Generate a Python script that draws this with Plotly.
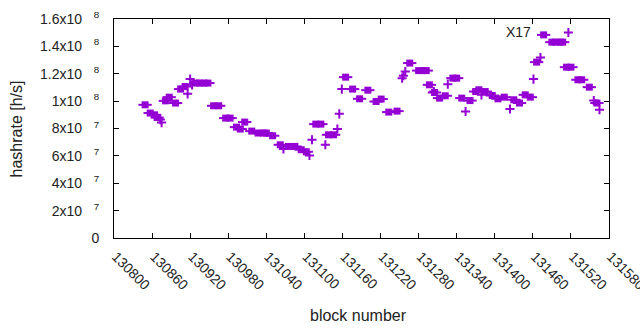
import plotly.graph_objects as go

COLOR = "#9400D3"

# Blocks where the hashrate stayed the same over several blocks (square marks)
sq_blocks = [130849, 130857, 130864, 130868, 130881, 130887, 130897, 130905, 130912,
             130929, 130935, 130942, 130948, 130957, 130965, 130976, 130983, 130993,
             130999, 131006, 131017, 131027, 131035, 131040, 131050, 131062, 131075,
             131085, 131095, 131103, 131118, 131126, 131138, 131146, 131165, 131176,
             131187, 131200, 131213, 131221, 131233, 131246, 131266, 131280, 131287,
             131292, 131297, 131305, 131313, 131322, 131334, 131340, 131348, 131361,
             131370, 131375, 131385, 131396, 131405, 131415, 131430, 131439, 131448,
             131456, 131466, 131477, 131490, 131496, 131503, 131507, 131513, 131520,
             131531, 131537, 131549, 131561]
sq_hashrate_mh = [97.3, 91.3, 90.0, 88.0, 100.2, 102.9, 98.6, 108.8, 110.7,
                  113.2, 113.2, 113.2, 113.2, 96.6, 96.6, 87.6, 87.6, 81.0,
                  79.6, 84.7, 78.1, 76.7, 76.7, 76.7, 74.7, 68.1, 66.9,
                  66.9, 64.5, 63.0, 83.2, 83.2, 75.4, 75.4, 117.5, 108.8,
                  101.7, 108.0, 99.7, 101.5, 92.0, 92.7, 127.8, 122.3, 122.3,
                  122.3, 111.9, 106.3, 102.2, 103.9, 116.8, 116.8, 102.2, 100.4,
                  107.0, 108.3, 107.0, 104.1, 101.7, 102.9, 101.0, 98.6, 104.6,
                  102.9, 128.5, 148.4, 143.1, 143.1, 143.1, 143.1, 124.8, 124.8,
                  115.6, 115.6, 110.2, 98.6]

# Single-block samples (plus marks)
pl_blocks = [130873, 130875, 130916, 130920, 130923, 131067, 131108, 131112, 131133,
             131152, 131155, 131159, 131254, 131256, 131259, 131304, 131326, 131354,
             131379, 131424, 131461, 131472, 131516, 131556, 131565]
pl_hashrate_mh = [86.5, 84.3, 105.3, 116.1, 111.9, 65.0, 60.3, 71.8, 68.1,
                  79.6, 90.7, 108.8, 116.8, 118.5, 121.6, 107.0, 112.4, 92.4,
                  104.6, 94.2, 116.1, 131.8, 150.1, 100.4, 93.7]

x_ticks = list(range(130800, 131581, 60))
y_ticks = [0, 2e7, 4e7, 6e7, 8e7, 1e8, 1.2e8, 1.4e8, 1.6e8]
y_mant = ["0", "2", "4", "6", "8", "1", "1.2", "1.4", "1.6"]
y_exp = ["", "7", "7", "7", "7", "8", "8", "8", "8"]
NB = "\u00a0\u00a0\u00a0"
y_ticktext = [m if not e else m + "x10" + NB + "<sup>" + e + "</sup>"
              for m, e in zip(y_mant, y_exp)]

sq_y = [v * 1e6 for v in sq_hashrate_mh]
pl_y = [v * 1e6 for v in pl_hashrate_mh]

fig = go.Figure()
fig.add_trace(go.Scatter(x=sq_blocks, y=sq_y, mode="markers", name="X17",
                         marker=dict(symbol="line-ew", size=9.5,
                                     line=dict(width=2, color=COLOR)),
                         showlegend=False, hoverinfo="skip"))
fig.add_trace(go.Scatter(x=sq_blocks, y=sq_y, mode="markers", name="X17",
                         marker=dict(symbol="square", size=7, color=COLOR,
                                     line=dict(width=0)),
                         showlegend=False))
fig.add_trace(go.Scatter(x=pl_blocks, y=pl_y, mode="markers", name="X17",
                         marker=dict(symbol="cross-thin", size=6.5,
                                     line=dict(width=2, color=COLOR)),
                         showlegend=False))

FONT = "Liberation Sans, Arial, sans-serif"
axis_common = dict(showline=True, linecolor="black", linewidth=1, mirror="ticks",
                   ticks="inside", ticklen=5, tickcolor="black", tickwidth=1,
                   showgrid=False, zeroline=False, automargin=False,
                   ticklabeloverflow="allow",
                   tickfont=dict(family=FONT, size=14, color="#222"))

fig.update_layout(
    width=640, height=330,
    margin=dict(l=114, r=31, t=19, b=92),
    plot_bgcolor="white", paper_bgcolor="white",
    xaxis=dict(range=[130800, 131580], tickmode="array", tickvals=x_ticks,
               ticktext=[str(t) for t in x_ticks], tickangle=45,
               ticklabelstandoff=4, ticklabelshift=2, **axis_common),
    yaxis=dict(range=[0, 1.6e8], tickmode="array", tickvals=y_ticks,
               ticktext=y_ticktext, ticklabelstandoff=11, **axis_common),
    annotations=[
        dict(text="X17", xref="paper", yref="paper", x=0.8465, y=0.94,
             xanchor="right", yanchor="middle", showarrow=False,
             font=dict(family=FONT, size=14, color="#222")),
        dict(text="block number", xref="paper", yref="paper", x=0.5, y=-0.355,
             xanchor="center", yanchor="middle", showarrow=False,
             font=dict(family=FONT, size=16, color="#222"), xshift=-3),
        dict(text="hashrate [h/s]", xref="paper", yref="paper", x=-0.196, y=0.5,
             xanchor="center", yanchor="middle", showarrow=False, textangle=-90,
             font=dict(family=FONT, size=16, color="#222")),
    ],
)

fig.write_html("out.html", config={"displayModeBar": False},
               post_script="document.body.style.margin='0';")
